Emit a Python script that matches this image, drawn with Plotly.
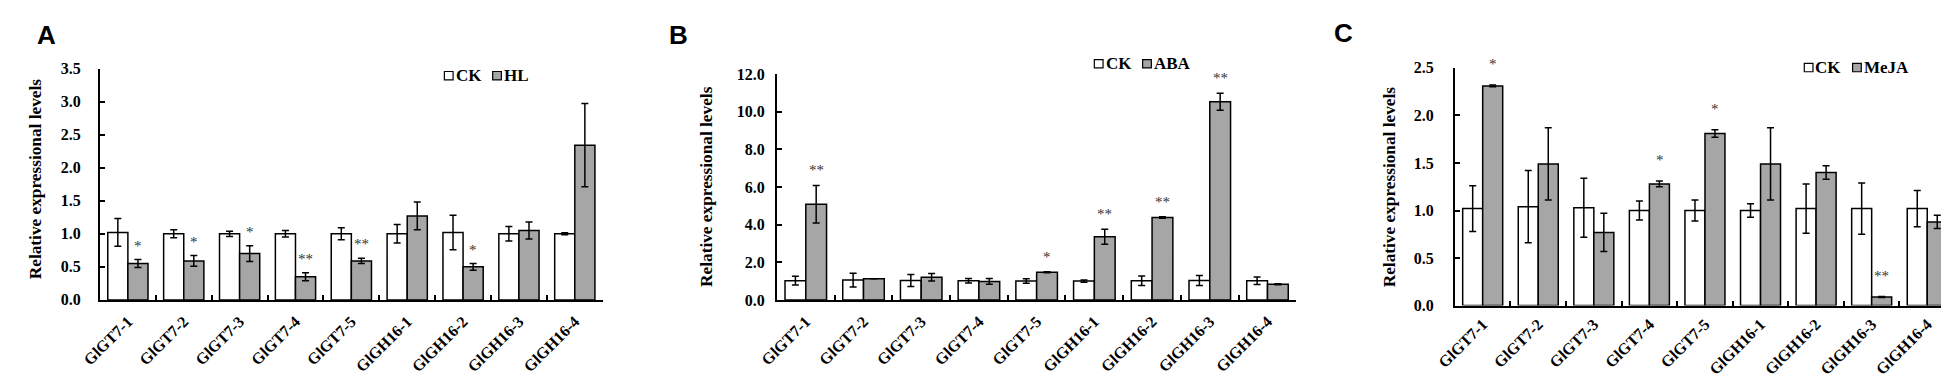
import plotly.graph_objects as go

W, H = 1949, 377

categories = ["GlGT7-1", "GlGT7-2", "GlGT7-3", "GlGT7-4", "GlGT7-5",
              "GlGH16-1", "GlGH16-2", "GlGH16-3", "GlGH16-4"]

# Panel A: CK vs HL
A_ck = [1.02, 1.00, 1.00, 1.00, 1.00, 1.00, 1.02, 1.00, 1.00]
A_ck_err = [0.21, 0.06, 0.04, 0.05, 0.09, 0.14, 0.26, 0.11, 0.015]
A_trt = [0.55, 0.59, 0.70, 0.35, 0.59, 1.27, 0.50, 1.05, 2.34]
A_trt_err = [0.06, 0.08, 0.12, 0.06, 0.04, 0.21, 0.05, 0.13, 0.63]
A_sig = ["*", "*", "*", "**", "**", "", "*", "", ""]
A_ticks = [0.0, 0.5, 1.0, 1.5, 2.0, 2.5, 3.0, 3.5]

# Panel B: CK vs ABA
B_ck = [1.02, 1.05, 1.03, 1.02, 1.00, 1.00, 1.02, 1.03, 1.02]
B_ck_err = [0.23, 0.37, 0.32, 0.12, 0.12, 0.06, 0.25, 0.27, 0.20]
B_trt = [5.08, 1.12, 1.20, 0.98, 1.47, 3.35, 4.37, 10.52, 0.83]
B_trt_err = [1.00, 0.0, 0.20, 0.15, 0.03, 0.40, 0.04, 0.45, 0.03]
B_sig = ["**", "", "", "", "*", "**", "**", "**", ""]
B_ticks = [0.0, 2.0, 4.0, 6.0, 8.0, 10.0, 12.0]

# Panel C: CK vs MeJA
C_ck = [1.02, 1.04, 1.03, 1.00, 1.00, 1.00, 1.02, 1.02, 1.02]
C_ck_err = [0.24, 0.38, 0.31, 0.10, 0.11, 0.07, 0.26, 0.27, 0.19]
C_trt = [2.31, 1.49, 0.77, 1.28, 1.81, 1.49, 1.40, 0.09, 0.88]
C_trt_err = [0.01, 0.38, 0.20, 0.03, 0.04, 0.38, 0.07, 0.005, 0.07]
C_sig = ["*", "", "", "*", "*", "", "", "**", ""]
C_ticks = [0.0, 0.5, 1.0, 1.5, 2.0, 2.5]

ytitle = "Relative expressional levels"

SERIF = "Liberation Serif"
SANS = "Liberation Sans"
GRAY = "#a6a6a6"

fig = go.Figure()

panels = [
    dict(letter="A", trt_name="HL", ck=A_ck, ck_err=A_ck_err, trt=A_trt, trt_err=A_trt_err,
         sig=A_sig, ticks=A_ticks,
         xpx=(72.7, 580.7), ypx=(55.0, 297.3), standoff=14, title_px=(7, 170),
         letter_px=(7, 2), legend_px=(420.7, 62.5), star_shift=4, xstandoff=4),
    dict(letter="B", trt_name="ABA", ck=B_ck, ck_err=B_ck_err, trt=B_trt, trt_err=B_trt_err,
         sig=B_sig, ticks=B_ticks,
         xpx=(756.7, 1281.5), ypx=(60.7, 297.3), standoff=7, title_px=(686, 178),
         letter_px=(646, 2), legend_px=(1077.4, 50), star_shift=5, xstandoff=4),
    dict(letter="C", trt_name="MeJA", ck=C_ck, ck_err=C_ck_err, trt=C_trt, trt_err=C_trt_err,
         sig=C_sig, ticks=C_ticks,
         xpx=(1441.7, 1947.0), ypx=(54.3, 303.3), standoff=16, title_px=(1376.5, 179),
         letter_px=(1318, 0), legend_px=(1794.7, 54), star_shift=11, xstandoff=1),
]

layout = dict(
    width=W, height=H,
    margin=dict(l=0, r=0, t=0, b=0),
    paper_bgcolor="white", plot_bgcolor="white",
    barmode="group", bargap=0.28, bargroupgap=0,
    showlegend=False,
    annotations=[], shapes=[],
)

axis_font = dict(family=SERIF, size=16, color="black", weight="bold")

for i, p in enumerate(panels):
    n = "" if i == 0 else str(i + 1)
    xa, ya = "x" + n, "y" + n
    x0, x1 = p["xpx"]
    ytop, ybot = p["ypx"]
    ymax = p["ticks"][-1]

    fig.add_trace(go.Bar(
        x=categories, y=p["ck"], name="CK", xaxis=xa, yaxis=ya,
        marker=dict(color="white", line=dict(color="black", width=1.5)),
        error_y=dict(type="data", array=p["ck_err"], color="black", thickness=1.5, width=3.5),
        offsetgroup="ck",
    ))
    fig.add_trace(go.Bar(
        x=categories, y=p["trt"], name=p["trt_name"], xaxis=xa, yaxis=ya,
        marker=dict(color=GRAY, line=dict(color="black", width=1.5)),
        error_y=dict(type="data", array=p["trt_err"], color="black", thickness=1.5, width=3.5),
        offsetgroup="trt",
    ))

    layout["xaxis" + n] = dict(
        domain=[x0 / W, x1 / W], anchor=ya,
        type="category", categoryorder="array", categoryarray=categories,
        showline=True, linecolor="black", linewidth=2,
        ticks="inside", tickson="boundaries", ticklen=5, tickwidth=1.5, tickcolor="black",
        tickangle=-45, tickfont=axis_font, showgrid=False, zeroline=False,
        ticklabelstandoff=p["xstandoff"],
    )
    layout["yaxis" + n] = dict(
        domain=[1 - ybot / H, 1 - ytop / H], anchor=xa,
        range=[0, ymax], tickvals=p["ticks"],
        ticktext=[f"{t:.1f}" for t in p["ticks"]],
        showline=True, linecolor="black", linewidth=2,
        ticks="inside", ticklen=5, tickwidth=1.5, tickcolor="black",
        tickfont=axis_font, showgrid=False, zeroline=False,
        ticklabelstandoff=p["standoff"],
    )

    # significance marks above treatment bars
    cat_w = (x1 - x0) / len(categories)
    shift = cat_w * (1 - 0.28) / 4
    for c, v, e, s in zip(categories, p["trt"], p["trt_err"], p["sig"]):
        if s:
            layout["annotations"].append(dict(
                x=c, y=v + e, xref=xa, yref=ya, text=s, showarrow=False,
                xshift=shift, yshift=p["star_shift"], yanchor="bottom",
                font=dict(family=SERIF, size=15, color="#333333"),
            ))

    # axis title
    tx, ty = p["title_px"]
    layout["annotations"].append(dict(
        x=tx / W, y=1 - ty / H, xref="paper", yref="paper", text=ytitle,
        textangle=-90, showarrow=False, xanchor="center", yanchor="middle",
        font=dict(family=SERIF, size=17.3, color="black", weight="bold"),
    ))

    # panel letter
    lx, ly = p["letter_px"]
    layout["annotations"].append(dict(
        x=lx / W, y=1 - ly / H, xref="paper", yref="paper", text=p["letter"],
        showarrow=False, xanchor="left", yanchor="top",
        font=dict(family=SANS, size=26, color="black", weight="bold"),
    ))

    # legend: square + label for each series
    gx, gy = p["legend_px"]
    sq = 8.8
    items = [("CK", "white"), (p["trt_name"], GRAY)]
    cx = gx
    for name, col in items:
        layout["shapes"].append(dict(
            type="rect", xref="paper", yref="paper",
            x0=cx / W, x1=(cx + sq) / W, y0=1 - (gy + sq / 2) / H, y1=1 - (gy - sq / 2) / H,
            fillcolor=col, line=dict(color="black", width=1.2),
        ))
        layout["annotations"].append(dict(
            x=(cx + sq + 0.5) / W, y=1 - gy / H, xref="paper", yref="paper", text=name,
            showarrow=False, xanchor="left", yanchor="middle",
            font=dict(family=SERIF, size=17, color="black", weight="bold"),
        ))
        cx = cx + sq + 0.5 + (29 if name == "CK" else 0) + 10.5

fig.update_layout(**layout)
fig.write_html("out.html")
